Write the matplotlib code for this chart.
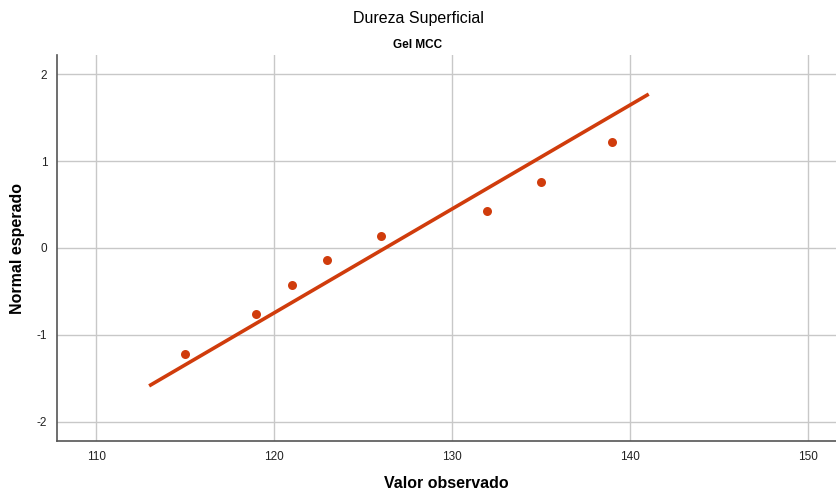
import matplotlib
matplotlib.use("Agg")
import matplotlib.pyplot as plt

# valores observados e normal esperado (Q-Q normal, SPSS)
obs_x = [115, 119, 121, 123, 126, 132, 135, 139]
exp_y = [-1.22, -0.76, -0.43, -0.14, 0.14, 0.43, 0.76, 1.22]
# reta de referência (extremos)
line_x = [112.98, 141.07]
line_y = [-1.586, 1.77]
x_ticks = [110, 120, 130, 140, 150]
y_ticks = [-2, -1, 0, 1, 2]

plt.rcParams["font.family"] = ["Liberation Sans", "DejaVu Sans"]
plt.rcParams["axes.unicode_minus"] = False
red = "#d03c0c"

fig = plt.figure(figsize=(8.36, 4.93), dpi=100)
ax = fig.add_axes([57 / 836, 52 / 493, 779 / 836, 386 / 493])

ax.plot(line_x, line_y, color=red, lw=2.6, solid_capstyle="butt", zorder=3)
ax.scatter(obs_x, exp_y, s=42, color=red, zorder=4, linewidths=0)

ax.set_xlim(107.8, 151.6)
ax.set_ylim(-2.22, 2.22)
ax.set_xticks(x_ticks)
ax.set_yticks(y_ticks)
ax.grid(True, color="#c8c8c8", lw=1)
ax.set_axisbelow(True)
for s in ("top", "right"):
    ax.spines[s].set_visible(False)
for s in ("left", "bottom"):
    ax.spines[s].set_color("#555555")
    ax.spines[s].set_linewidth(1.2)
ax.tick_params(length=0, labelsize=8.5, colors="#222222", pad=7)

fig.text(0.5 + 28 / 836, 1 - 484 / 493, "Valor observado", ha="center", va="center",
         fontsize=11.5, fontweight="bold")
fig.text(18 / 836, 1 - 248 / 493, "Normal esperado", ha="center", va="center",
         rotation=90, fontsize=11.5, fontweight="bold")

fig.text(0.5, 1 - 19 / 493, "Dureza Superficial", ha="center", va="center", fontsize=11.5)
fig.text(0.5, 1 - 45 / 493, "Gel MCC", ha="center", va="center", fontsize=8.5,
         fontweight="bold")

fig.savefig("out.png", dpi=100)
